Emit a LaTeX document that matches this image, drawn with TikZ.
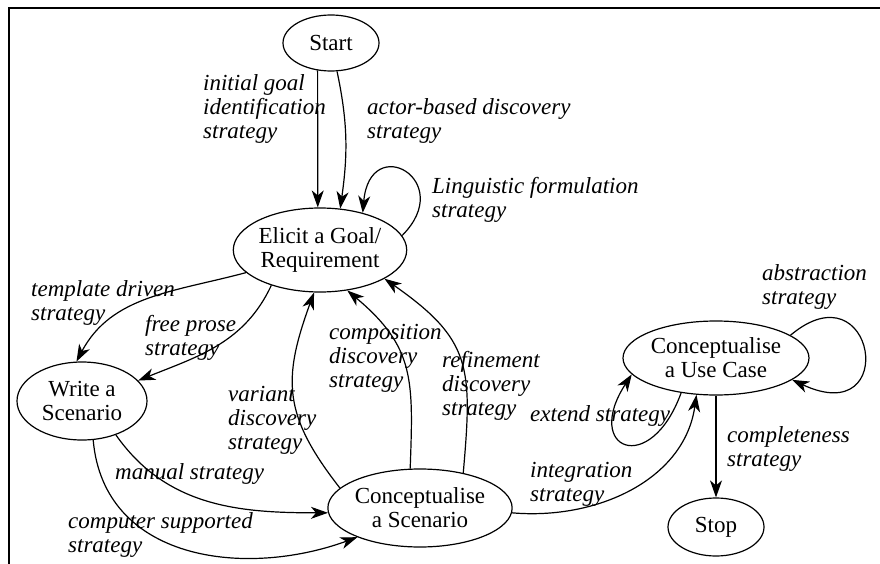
\documentclass[tikz,border=0pt]{standalone}
\usepackage{fontspec}
\setmainfont{Liberation Serif}
\usetikzlibrary{shapes.geometric,arrows.meta}
\begin{document}
\begin{tikzpicture}[x=1pt,y=1pt,
  state/.style={draw, ellipse, line width=1.2pt, inner sep=0pt, align=center, font=\fontsize{23}{24}\selectfont},
  lbl/.style={anchor=north west, inner sep=0pt, align=left, font=\fontsize{23}{24}\selectfont\itshape},
  edge/.style={line width=1.2pt, -{Stealth[length=17pt,width=12pt,inset=5pt]}}]
\useasboundingbox (0,0) rectangle (880,-564);
\draw[line width=2pt] (8.5,-564) -- (8.5,-8) -- (880,-8);

\node[state, minimum width=96, minimum height=56] (start) at (331,-43) {Start};
\node[state, minimum width=168, minimum height=84] (elicit) at (320,-250) {Elicit a Goal/\\Requirement};
\node[state, minimum width=130, minimum height=78] (write) at (82,-401) {Write a\\Scenario};
\node[state, minimum width=180, minimum height=78] (cs) at (420,-508) {Conceptualise\\a Scenario};
\node[state, minimum width=186, minimum height=74] (uc) at (716,-358) {Conceptualise\\a Use Case};
\node[state, minimum width=96, minimum height=58] (stop) at (716,-527) {Stop};

\draw[edge] (start.244) -- (elicit.93);
\draw[edge] (start.282) to[out=-78,in=82] (elicit.64);
\draw[edge] (elicit.10) to[out=45,in=85,out distance=78pt,in distance=82pt] (elicit.41);
\draw[edge] (elicit.197) to[out=195,in=62] (write.98);
\draw[edge] (elicit.216) to[out=245,in=22] (write.20);
\draw[edge] (write.-45) to[out=-55,in=180] (cs.183);
\draw[edge] (write.-74) to[out=-85,in=200,looseness=1.1] (cs.205);
\draw[edge] (cs.166) to[out=128,in=250,looseness=1.2] (elicit.262);
\draw[edge] (cs.104) to[out=88,in=-40,looseness=1.2] (elicit.-56);
\draw[edge] (cs.39) to[out=85,in=-35,looseness=1.3] (elicit.-24);
\draw[edge] (cs.-3) to[out=-5,in=262] (uc.242);
\draw[edge] (uc.225) to[out=250,in=237,distance=90pt] (uc.191);
\draw[edge] (uc.17) to[out=40,in=-25,out distance=110pt,in distance=120pt] (uc.-16);
\draw[edge] (uc.south) -- (stop.north);

\node[lbl] (l1) at (203,-74) {initial goal\\identification\\strategy};
\node[lbl] (l2) at (367,-98) {actor-based discovery\\strategy};
\node[lbl] (l3) at (432,-177) {Linguistic formulation\\strategy};
\node[lbl] (l4) at (31,-280) {template driven\\strategy};
\node[lbl] (l5) at (145,-315) {free prose\\strategy};
\node[lbl] (l6) at (228,-386) {variant\\discovery\\strategy};
\node[lbl] (l7) at (115,-463) {manual strategy};
\node[lbl] (l8) at (68,-512) {computer supported\\strategy};
\node[lbl] (l9) at (329,-324) {composition\\discovery\\strategy};
\node[lbl] (l10) at (442,-351) {refinement\\discovery\\strategy};
\node[lbl] (l11) at (530,-405) {extend strategy};
\node[lbl] (l12) at (530,-462) {integration\\strategy};
\node[lbl] (l13) at (762,-264) {abstraction\\strategy};
\node[lbl] (l14) at (727,-426) {completeness\\strategy};
\end{tikzpicture}
\end{document}
